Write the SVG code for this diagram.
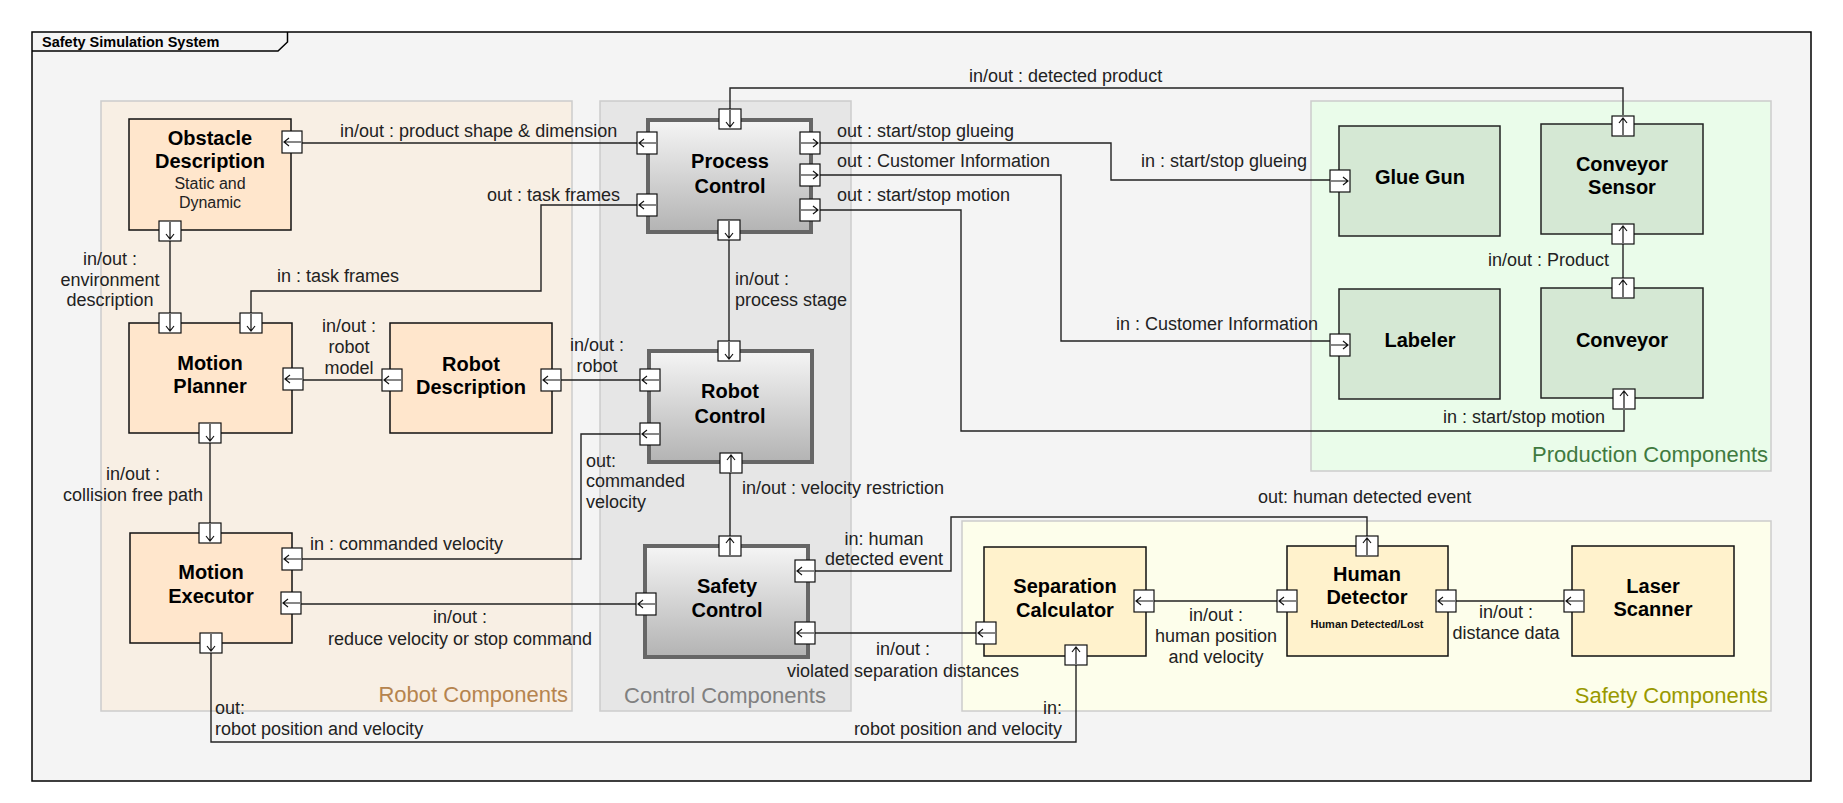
<svg xmlns="http://www.w3.org/2000/svg" xmlns:xlink="http://www.w3.org/1999/xlink" width="1843" height="803" viewBox="0 0 1843 803">
<style>
text{font-family:"Liberation Sans",Arial,sans-serif;}
.lbl{font-size:18px;fill:#222;}
.nt{font-size:20px;font-weight:bold;fill:#000;text-anchor:middle;}
.grp{font-size:22px;}
.cont{stroke:#cccccc;stroke-width:1.5;}
.cn{fill:none;stroke:#222;stroke-width:1.4;}
.orange{fill:#ffe6cc;stroke:#111;stroke-width:1.5;}
.green{fill:#d5e8d4;stroke:#222;stroke-width:1.5;}
.yellow{fill:#fff2cc;stroke:#111;stroke-width:1.5;}
.ctrl{fill:url(#gr);stroke:#666;stroke-width:4;}
.pb{fill:#fff;stroke:#111;stroke-width:1.2;}
.pa{fill:none;stroke:#111;stroke-width:1.2;}
.m{text-anchor:middle;}
.e{text-anchor:end;}
</style>
<defs>
<linearGradient id="gr" x1="0" y1="0" x2="0" y2="1">
<stop offset="0" stop-color="#f5f5f5"/>
<stop offset="1" stop-color="#b3b3b3"/>
</linearGradient>
<g id="pL"><rect class="pb" x="-10" y="-11" width="20" height="22"/><path class="pa" d="M9,0 H-8 M-3,-4 L-8,0 L-3,4"/></g>
<g id="pR"><rect class="pb" x="-10" y="-11" width="20" height="22"/><path class="pa" d="M-9,0 H8 M3,-4 L8,0 L3,4"/></g>
<g id="pD"><rect class="pb" x="-11" y="-10" width="22" height="20"/><path class="pa" d="M0,-9 V8 M-4,3 L0,8 L4,3"/></g>
<g id="pU"><rect class="pb" x="-11" y="-10" width="22" height="20"/><path class="pa" d="M0,9 V-8 M-4,-3 L0,-8 L4,-3"/></g>
</defs>
<rect width="1843" height="803" fill="#fff"/>
<g id="frame">
<rect x="32" y="32" width="1779" height="749" fill="#f4f4f4" stroke="#000" stroke-width="1.5"/>
<path d="M32,51 H278 L287.5,42 V32" fill="none" stroke="#000" stroke-width="1.5"/>
<text x="42" y="47" style="font-size:14.5px;font-weight:bold;fill:#000">Safety Simulation System</text>
</g>
<g id="containers">
<g id="robot-components"><rect class="cont" x="101" y="101" width="471" height="610" fill="#f8efe4"/><text class="grp e" x="568" y="702" fill="#b5844f">Robot Components</text></g>
<g id="control-components"><rect class="cont" x="600" y="101" width="251" height="610" fill="#e6e6e6"/><text class="grp m" x="725" y="703" fill="#808080">Control Components</text></g>
<g id="production-components"><rect class="cont" x="1311" y="101" width="460" height="370" fill="#eafcea"/><text class="grp e" x="1768" y="462" fill="#3f7a3f">Production Components</text></g>
<g id="safety-components"><rect class="cont" x="962" y="521" width="809" height="190" fill="#fdfeeb"/><text class="grp e" x="1768" y="703" fill="#999900">Safety Components</text></g>
</g>
<g id="connectors">
<path class="cn" d="M730,109 V88 H1623 V115"/>
<path class="cn" d="M637,143 H302"/>
<path class="cn" d="M637,205 H541 V291 H251 V313"/>
<path class="cn" d="M170,241 V313"/>
<path class="cn" d="M382,380 H303"/>
<path class="cn" d="M640,380 H561"/>
<path class="cn" d="M729,240 V341"/>
<path class="cn" d="M820,143 H1111 V180 H1330"/>
<path class="cn" d="M820,175 H1061 V341 H1330"/>
<path class="cn" d="M820,210 H961 V431 H1624 V410"/>
<path class="cn" d="M1623,278 V244"/>
<path class="cn" d="M210,443 V523"/>
<path class="cn" d="M640,434 H581 V559 H302"/>
<path class="cn" d="M636,604 H301"/>
<path class="cn" d="M730,536 V473"/>
<path class="cn" d="M1367,536 V517 H951 V571 H815"/>
<path class="cn" d="M976,633 H815"/>
<path class="cn" d="M1277,601 H1154"/>
<path class="cn" d="M1564,601 H1456"/>
<path class="cn" d="M211,653 V742 H1076 V665"/>
<text class="lbl" x="969" y="82">in/out : detected product</text>
<text class="lbl" x="340" y="137">in/out : product shape &amp; dimension</text>
<text class="lbl" x="487" y="201">out : task frames</text>
<text class="lbl" x="277" y="282">in : task frames</text>
<text class="lbl m" x="110" y="265">in/out :</text>
<text class="lbl m" x="110" y="286">environment</text>
<text class="lbl m" x="110" y="306">description</text>
<text class="lbl m" x="349" y="332">in/out :</text>
<text class="lbl m" x="349" y="353">robot</text>
<text class="lbl m" x="349" y="374">model</text>
<text class="lbl m" x="597" y="351">in/out :</text>
<text class="lbl m" x="597" y="372">robot</text>
<text class="lbl" x="735" y="285">in/out :</text>
<text class="lbl" x="735" y="306">process stage</text>
<text class="lbl" x="837" y="137">out : start/stop glueing</text>
<text class="lbl" x="837" y="167">out : Customer Information</text>
<text class="lbl" x="837" y="201">out : start/stop motion</text>
<text class="lbl e" x="1307" y="167">in : start/stop glueing</text>
<text class="lbl e" x="1318" y="330">in : Customer Information</text>
<text class="lbl e" x="1605" y="423">in : start/stop motion</text>
<text class="lbl e" x="1609" y="266">in/out : Product</text>
<text class="lbl m" x="133" y="480">in/out :</text>
<text class="lbl m" x="133" y="501">collision free path</text>
<text class="lbl" x="586" y="467">out:</text>
<text class="lbl" x="586" y="487">commanded</text>
<text class="lbl" x="586" y="508">velocity</text>
<text class="lbl" x="310" y="550">in : commanded velocity</text>
<text class="lbl m" x="460" y="623">in/out :</text>
<text class="lbl m" x="460" y="645">reduce velocity or stop command</text>
<text class="lbl" x="742" y="494">in/out : velocity restriction</text>
<text class="lbl" x="1258" y="503">out: human detected event</text>
<text class="lbl m" x="884" y="545">in: human</text>
<text class="lbl m" x="884" y="565">detected event</text>
<text class="lbl m" x="903" y="655">in/out :</text>
<text class="lbl m" x="903" y="677">violated separation distances</text>
<text class="lbl m" x="1216" y="621">in/out :</text>
<text class="lbl m" x="1216" y="642">human position</text>
<text class="lbl m" x="1216" y="663">and velocity</text>
<text class="lbl m" x="1506" y="618">in/out :</text>
<text class="lbl m" x="1506" y="639">distance data</text>
<text class="lbl" x="215" y="714">out:</text>
<text class="lbl" x="215" y="735">robot position and velocity</text>
<text class="lbl e" x="1062" y="714">in:</text>
<text class="lbl e" x="1062" y="735">robot position and velocity</text>
</g>
<g id="obstacle-description">
<rect class="orange" x="129" y="119" width="162" height="111"/>
<text class="nt" x="210" y="145">Obstacle</text>
<text class="nt" x="210" y="168">Description</text>
<text x="210" y="189" class="m" style="font-size:16px;fill:#222">Static and</text>
<text x="210" y="208" class="m" style="font-size:16px;fill:#222">Dynamic</text>
<use href="#pL" x="292" y="142"/><use href="#pD" x="170" y="231"/>
</g>
<g id="motion-planner">
<rect class="orange" x="129" y="323" width="163" height="110"/>
<text class="nt" x="210" y="370">Motion</text>
<text class="nt" x="210" y="393">Planner</text>
<use href="#pD" x="170" y="323"/><use href="#pD" x="251" y="323"/><use href="#pL" x="293" y="379"/><use href="#pD" x="210" y="433"/>
</g>
<g id="robot-description">
<rect class="orange" x="390" y="323" width="162" height="110"/>
<text class="nt" x="471" y="371">Robot</text>
<text class="nt" x="471" y="394">Description</text>
<use href="#pL" x="392" y="380"/><use href="#pL" x="551" y="380"/>
</g>
<g id="motion-executor">
<rect class="orange" x="130" y="533" width="162" height="110"/>
<text class="nt" x="211" y="579">Motion</text>
<text class="nt" x="211" y="603">Executor</text>
<use href="#pD" x="210" y="533"/><use href="#pL" x="292" y="559"/><use href="#pL" x="291" y="603"/><use href="#pD" x="211" y="643"/>
</g>
<g id="process-control">
<rect class="ctrl" x="648" y="120" width="163" height="112"/>
<text class="nt" x="730" y="168">Process</text>
<text class="nt" x="730" y="193">Control</text>
<use href="#pD" x="730" y="119"/><use href="#pL" x="647" y="143"/><use href="#pL" x="647" y="205"/><use href="#pR" x="810" y="143"/><use href="#pR" x="810" y="175"/><use href="#pR" x="810" y="210"/><use href="#pD" x="729" y="230"/>
</g>
<g id="robot-control">
<rect class="ctrl" x="649" y="351" width="163" height="111"/>
<text class="nt" x="730" y="398">Robot</text>
<text class="nt" x="730" y="423">Control</text>
<use href="#pD" x="729" y="351"/><use href="#pL" x="650" y="380"/><use href="#pL" x="650" y="434"/><use href="#pU" x="731" y="463"/>
</g>
<g id="safety-control">
<rect class="ctrl" x="645" y="546" width="163" height="111"/>
<text class="nt" x="727" y="593">Safety</text>
<text class="nt" x="727" y="617">Control</text>
<use href="#pU" x="730" y="546"/><use href="#pL" x="805" y="571"/><use href="#pL" x="646" y="604"/><use href="#pL" x="805" y="633"/>
</g>
<g id="separation-calculator">
<rect class="yellow" x="984" y="547" width="162" height="109"/>
<text class="nt" x="1065" y="593">Separation</text>
<text class="nt" x="1065" y="617">Calculator</text>
<use href="#pL" x="986" y="633"/><use href="#pL" x="1144" y="601"/><use href="#pU" x="1076" y="655"/>
</g>
<g id="human-detector">
<rect class="yellow" x="1287" y="546" width="161" height="110"/>
<text class="nt" x="1367" y="581">Human</text>
<text class="nt" x="1367" y="604">Detector</text>
<text x="1367" y="628" class="m" style="font-size:11px;font-weight:bold;fill:#111">Human Detected/Lost</text>
<use href="#pU" x="1367" y="546"/><use href="#pL" x="1287" y="601"/><use href="#pL" x="1446" y="601"/>
</g>
<g id="laser-scanner">
<rect class="yellow" x="1572" y="546" width="162" height="110"/>
<text class="nt" x="1653" y="593">Laser</text>
<text class="nt" x="1653" y="616">Scanner</text>
<use href="#pL" x="1574" y="601"/>
</g>
<g id="glue-gun">
<rect class="green" x="1339" y="126" width="161" height="110"/>
<text class="nt" x="1420" y="184">Glue Gun</text>
<use href="#pR" x="1340" y="181"/>
</g>
<g id="conveyor-sensor">
<rect class="green" x="1541" y="124" width="162" height="110"/>
<text class="nt" x="1622" y="171">Conveyor</text>
<text class="nt" x="1622" y="194">Sensor</text>
<use href="#pU" x="1623" y="126"/><use href="#pU" x="1623" y="234"/>
</g>
<g id="labeler">
<rect class="green" x="1339" y="289" width="161" height="110"/>
<text class="nt" x="1420" y="347">Labeler</text>
<use href="#pR" x="1340" y="345"/>
</g>
<g id="conveyor">
<rect class="green" x="1541" y="288" width="162" height="110"/>
<text class="nt" x="1622" y="347">Conveyor</text>
<use href="#pU" x="1623" y="288"/><use href="#pU" x="1624" y="399"/>
</g>
</svg>
